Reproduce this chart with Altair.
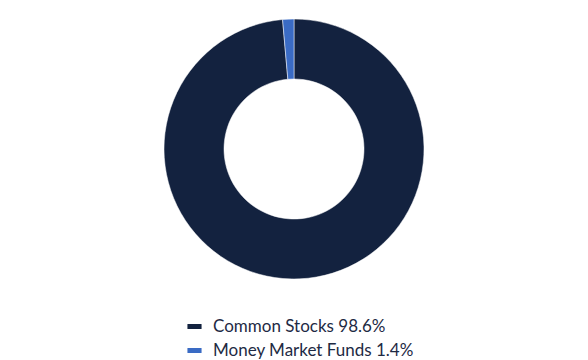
import altair as alt
import pandas as pd

categories = ["Common Stocks 98.6%", "Money Market Funds 1.4%"]
values = [98.6, 1.4]
colors = ["#13223F", "#3A6BC4"]

df = pd.DataFrame({"category": categories, "value": values, "order": [0, 1]})

chart = alt.Chart(df).mark_arc(radius=130, radius2=70, stroke="white", strokeWidth=0.5).encode(
    theta=alt.Theta("value:Q", stack=True),
    order=alt.Order("order:Q"),
    x=alt.value(294),
    y=alt.value(149),
    color=alt.Color(
        "category:N",
        sort=categories,
        scale=alt.Scale(domain=categories, range=colors),
        legend=alt.Legend(
            title=None,
            orient="none",
            legendX=186,
            legendY=318,
            symbolType="M-1,-0.35L1,-0.35L1,0.35L-1,0.35Z",
            symbolSize=200,
            symbolStrokeWidth=0,
            labelFont="Lato",
            labelFontSize=17,
            labelLimit=0,
            labelColor="#1E2A44",
            rowPadding=6,
            labelOffset=10,
        ),
    ),
).properties(
    width=588, height=360, padding=0, autosize=alt.AutoSizeParams(type="none")
).configure_view(stroke=None)

chart.save("out.html", embed_options={"renderer": "svg", "actions": False})
